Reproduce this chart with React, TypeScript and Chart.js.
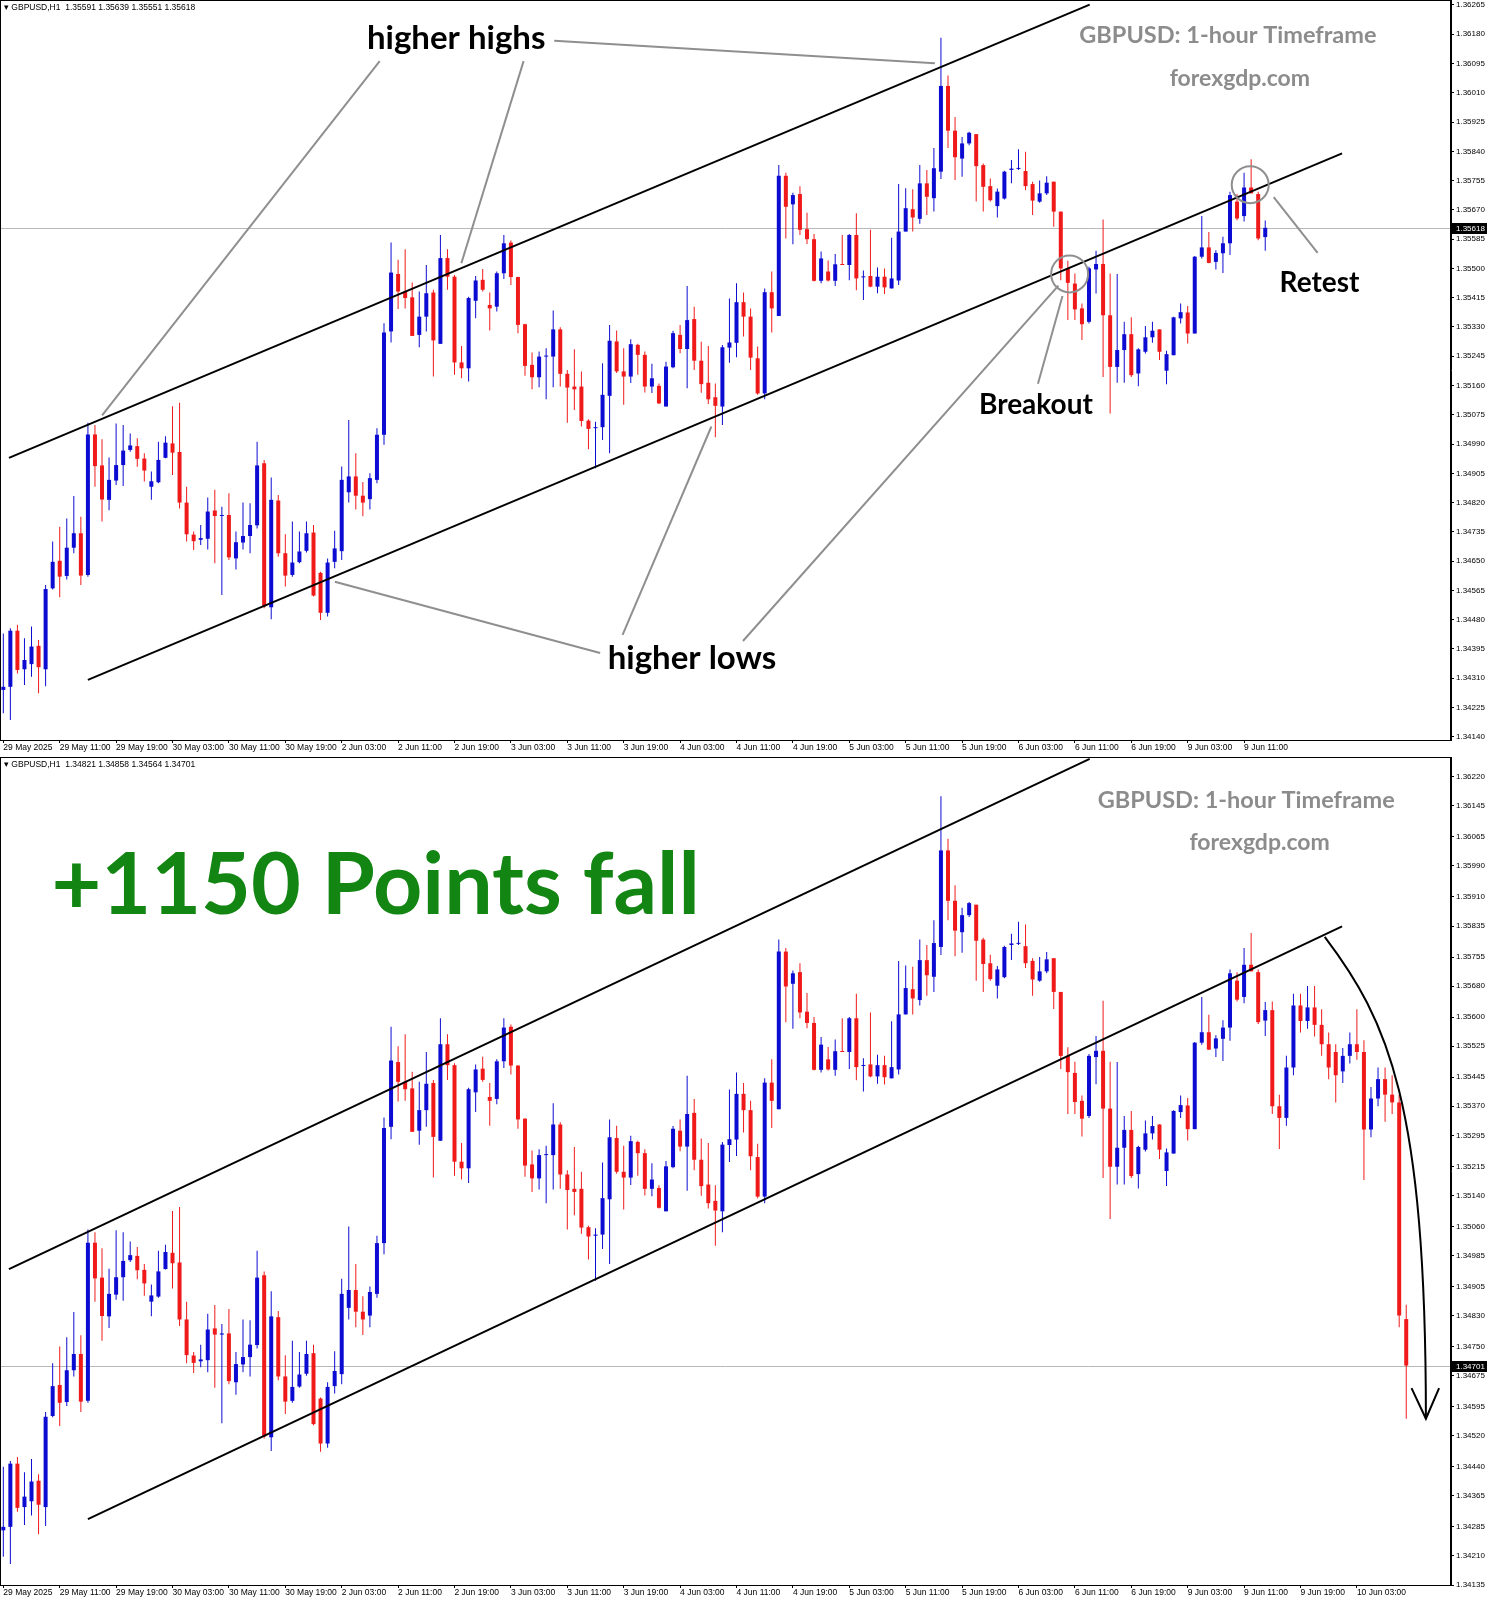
import React, { useEffect, useRef } from 'react';
import { Chart, registerables } from 'chart.js';
Chart.register(...registerables);

// ---------- DATA (GBPUSD H1) ----------
const openP = [
  1.34276, 1.34285, 1.34448, 1.34336, 1.34351, 1.34404, 1.34336, 1.34571, 1.34651, 1.34607,
  1.34689, 1.34731, 1.34610, 1.35018, 1.34928, 1.34828, 1.34884, 1.34929, 1.34973, 1.34984,
  1.34948, 1.34866, 1.34879, 1.34950, 1.34992, 1.34967, 1.34820, 1.34727, 1.34712, 1.34715,
  1.34797, 1.34781, 1.34784, 1.34658, 1.34704, 1.34723, 1.34754, 1.34934, 1.34516, 1.34826,
  1.34673, 1.34610, 1.34647, 1.34680, 1.34733, 1.34616, 1.34500, 1.34648, 1.34679, 1.34850,
  1.34896, 1.34840, 1.34830, 1.34886, 1.35017, 1.35317, 1.35484, 1.35433, 1.35416, 1.35307,
  1.35360, 1.35430, 1.35281, 1.35530, 1.35476, 1.35227, 1.35210, 1.35406, 1.35467, 1.35394,
  1.35389, 1.35486, 1.35575, 1.35475, 1.35338, 1.35220, 1.35184, 1.35244, 1.35244, 1.35323,
  1.35194, 1.35157, 1.35157, 1.35058, 1.35036, 1.35039, 1.35130, 1.35288, 1.35201, 1.35186,
  1.35278, 1.35249, 1.35157, 1.35159, 1.35099, 1.35213, 1.35307, 1.35266, 1.35353, 1.35232,
  1.35168, 1.35126, 1.35099, 1.35270, 1.35284, 1.35402, 1.35360, 1.35239, 1.35137, 1.35431,
  1.35362, 1.35769, 1.35686, 1.35716, 1.35614, 1.35585, 1.35464, 1.35491, 1.35464, 1.35512,
  1.35510, 1.35597, 1.35474, 1.35478, 1.35447, 1.35476, 1.35442, 1.35465, 1.35607, 1.35672,
  1.35644, 1.35747, 1.35704, 1.35781, 1.36030, 1.35900, 1.35819, 1.35863, 1.35890, 1.35800,
  1.35739, 1.35681, 1.35703, 1.35786, 1.35789, 1.35783, 1.35745, 1.35694, 1.35718, 1.35752,
  1.35665, 1.35500, 1.35456, 1.35384, 1.35345, 1.35497, 1.35513, 1.35364, 1.35214, 1.35263,
  1.35309, 1.35195, 1.35258, 1.35300, 1.35323, 1.35203, 1.35248, 1.35355, 1.35372, 1.35311,
  1.35534, 1.35561, 1.35519, 1.35544, 1.35573, 1.35694, 1.35652, 1.35735, 1.35716, 1.35591,
  1.35618, 1.35370, 1.35340, 1.35470, 1.35630, 1.35590, 1.35625, 1.35580, 1.35530, 1.35510,
  1.35460, 1.35500, 1.35530, 1.35510, 1.35310, 1.35390, 1.35440, 1.35400, 1.35380, 1.34821,
];
const highP = [
  1.34440, 1.34455, 1.34465, 1.34426, 1.34460, 1.34421, 1.34581, 1.34707, 1.34750, 1.34774,
  1.34839, 1.34779, 1.35052, 1.35045, 1.35004, 1.34951, 1.35050, 1.35045, 1.35021, 1.35007,
  1.34963, 1.34910, 1.34997, 1.35013, 1.35100, 1.35110, 1.34866, 1.34736, 1.34755, 1.34835,
  1.34857, 1.34808, 1.34847, 1.34736, 1.34820, 1.34818, 1.34997, 1.34944, 1.34893, 1.34842,
  1.34728, 1.34765, 1.34736, 1.34765, 1.34755, 1.34619, 1.34658, 1.34738, 1.34925, 1.35060,
  1.34963, 1.34880, 1.34905, 1.35036, 1.35341, 1.35575, 1.35525, 1.35556, 1.35459, 1.35433,
  1.35510, 1.35438, 1.35597, 1.35556, 1.35481, 1.35275, 1.35418, 1.35478, 1.35498, 1.35430,
  1.35491, 1.35597, 1.35581, 1.35476, 1.35339, 1.35256, 1.35259, 1.35268, 1.35378, 1.35329,
  1.35205, 1.35265, 1.35201, 1.35062, 1.35055, 1.35225, 1.35336, 1.35320, 1.35268, 1.35294,
  1.35281, 1.35259, 1.35223, 1.35166, 1.35229, 1.35319, 1.35336, 1.35449, 1.35389, 1.35287,
  1.35275, 1.35166, 1.35278, 1.35413, 1.35457, 1.35430, 1.35384, 1.35273, 1.35442, 1.35491,
  1.35800, 1.35778, 1.35720, 1.35739, 1.35662, 1.35600, 1.35549, 1.35523, 1.35542, 1.35597,
  1.35600, 1.35660, 1.35494, 1.35612, 1.35503, 1.35500, 1.35589, 1.35745, 1.35733, 1.35730,
  1.35800, 1.35786, 1.35850, 1.36170, 1.36060, 1.35940, 1.35882, 1.35897, 1.35890, 1.35805,
  1.35761, 1.35732, 1.35784, 1.35815, 1.35846, 1.35839, 1.35752, 1.35755, 1.35768, 1.35752,
  1.35665, 1.35522, 1.35485, 1.35398, 1.35505, 1.35551, 1.35642, 1.35485, 1.35484, 1.35345,
  1.35358, 1.35268, 1.35333, 1.35345, 1.35323, 1.35261, 1.35360, 1.35398, 1.35391, 1.35536,
  1.35652, 1.35606, 1.35553, 1.35592, 1.35723, 1.35716, 1.35778, 1.35817, 1.35723, 1.35639,
  1.35640, 1.35400, 1.35500, 1.35660, 1.35660, 1.35680, 1.35680, 1.35620, 1.35560, 1.35530,
  1.35520, 1.35560, 1.35620, 1.35540, 1.35420, 1.35470, 1.35470, 1.35450, 1.35400, 1.34858,
];
const lowP = [
  1.34208, 1.34189, 1.34324, 1.34290, 1.34314, 1.34266, 1.34287, 1.34568, 1.34545, 1.34597,
  1.34673, 1.34581, 1.34605, 1.34866, 1.34765, 1.34798, 1.34871, 1.34868, 1.34968, 1.34924,
  1.34881, 1.34828, 1.34876, 1.34949, 1.34900, 1.34803, 1.34707, 1.34682, 1.34697, 1.34684,
  1.34644, 1.34552, 1.34653, 1.34626, 1.34684, 1.34673, 1.34745, 1.34513, 1.34481, 1.34663,
  1.34576, 1.34605, 1.34644, 1.34675, 1.34547, 1.34479, 1.34489, 1.34629, 1.34653, 1.34820,
  1.34800, 1.34780, 1.34800, 1.34876, 1.34988, 1.35285, 1.35382, 1.35384, 1.35304, 1.35271,
  1.35317, 1.35186, 1.35281, 1.35438, 1.35191, 1.35181, 1.35172, 1.35355, 1.35433, 1.35320,
  1.35375, 1.35469, 1.35452, 1.35312, 1.35188, 1.35149, 1.35155, 1.35120, 1.35155, 1.35157,
  1.35052, 1.35089, 1.35041, 1.34975, 1.34920, 1.35002, 1.34963, 1.35196, 1.35104, 1.35167,
  1.35191, 1.35140, 1.35138, 1.35106, 1.35099, 1.35210, 1.35254, 1.35152, 1.35205, 1.35139,
  1.35106, 1.35010, 1.35045, 1.35226, 1.35242, 1.35302, 1.35205, 1.35133, 1.35120, 1.35314,
  1.35362, 1.35587, 1.35570, 1.35597, 1.35571, 1.35462, 1.35457, 1.35462, 1.35449, 1.35510,
  1.35466, 1.35437, 1.35408, 1.35445, 1.35428, 1.35426, 1.35442, 1.35452, 1.35607, 1.35607,
  1.35630, 1.35655, 1.35665, 1.35760, 1.35850, 1.35757, 1.35766, 1.35858, 1.35694, 1.35665,
  1.35694, 1.35648, 1.35700, 1.35747, 1.35786, 1.35727, 1.35655, 1.35691, 1.35713, 1.35621,
  1.35466, 1.35350, 1.35350, 1.35292, 1.35340, 1.35427, 1.35185, 1.35079, 1.35168, 1.35168,
  1.35185, 1.35158, 1.35253, 1.35284, 1.35234, 1.35164, 1.35248, 1.35340, 1.35282, 1.35311,
  1.35529, 1.35515, 1.35497, 1.35487, 1.35539, 1.35640, 1.35636, 1.35718, 1.35582, 1.35551,
  1.35350, 1.35260, 1.35320, 1.35450, 1.35560, 1.35570, 1.35550, 1.35500, 1.35440, 1.35380,
  1.35430, 1.35480, 1.35490, 1.35180, 1.35290, 1.35370, 1.35330, 1.35350, 1.34800, 1.34564,
];
const closeP = [
  1.34285, 1.34448, 1.34334, 1.34363, 1.34402, 1.34342, 1.34569, 1.34648, 1.34605, 1.34689,
  1.34731, 1.34608, 1.35018, 1.34926, 1.34829, 1.34886, 1.34929, 1.34971, 1.34986, 1.34947,
  1.34913, 1.34882, 1.34944, 1.34994, 1.34965, 1.34820, 1.34728, 1.34708, 1.34717, 1.34794,
  1.34781, 1.34784, 1.34661, 1.34705, 1.34723, 1.34755, 1.34928, 1.34518, 1.34828, 1.34673,
  1.34608, 1.34646, 1.34678, 1.34731, 1.34550, 1.34500, 1.34646, 1.34687, 1.34886, 1.34896,
  1.34840, 1.34820, 1.34891, 1.35017, 1.35314, 1.35488, 1.35433, 1.35414, 1.35304, 1.35360,
  1.35428, 1.35291, 1.35530, 1.35476, 1.35227, 1.35210, 1.35414, 1.35465, 1.35438, 1.35384,
  1.35486, 1.35573, 1.35475, 1.35336, 1.35217, 1.35184, 1.35244, 1.35246, 1.35323, 1.35194,
  1.35154, 1.35149, 1.35057, 1.35034, 1.35039, 1.35133, 1.35290, 1.35201, 1.35186, 1.35280,
  1.35249, 1.35157, 1.35181, 1.35108, 1.35215, 1.35312, 1.35266, 1.35350, 1.35232, 1.35164,
  1.35120, 1.35101, 1.35271, 1.35285, 1.35402, 1.35360, 1.35241, 1.35137, 1.35431, 1.35384,
  1.35769, 1.35679, 1.35713, 1.35612, 1.35585, 1.35464, 1.35529, 1.35465, 1.35512, 1.35510,
  1.35597, 1.35471, 1.35476, 1.35447, 1.35476, 1.35445, 1.35471, 1.35607, 1.35675, 1.35648,
  1.35747, 1.35708, 1.35791, 1.36030, 1.35900, 1.35823, 1.35863, 1.35894, 1.35797, 1.35737,
  1.35698, 1.35723, 1.35781, 1.35790, 1.35791, 1.35739, 1.35697, 1.35718, 1.35749, 1.35665,
  1.35500, 1.35458, 1.35381, 1.35338, 1.35500, 1.35513, 1.35364, 1.35214, 1.35263, 1.35309,
  1.35190, 1.35265, 1.35300, 1.35319, 1.35258, 1.35251, 1.35358, 1.35373, 1.35311, 1.35534,
  1.35561, 1.35516, 1.35545, 1.35573, 1.35713, 1.35645, 1.35735, 1.35718, 1.35587, 1.35618,
  1.35370, 1.35340, 1.35470, 1.35630, 1.35590, 1.35625, 1.35580, 1.35530, 1.35470, 1.35450,
  1.35500, 1.35530, 1.35510, 1.35310, 1.35390, 1.35440, 1.35400, 1.35380, 1.34830, 1.34701,
];

const topCount = 180;
const bottomCount = 200;

const timeLabelsTop = [
  '29 May 2025', '29 May 11:00', '29 May 19:00', '30 May 03:00', '30 May 11:00', '30 May 19:00',
  '2 Jun 03:00', '2 Jun 11:00', '2 Jun 19:00', '3 Jun 03:00', '3 Jun 11:00', '3 Jun 19:00',
  '4 Jun 03:00', '4 Jun 11:00', '4 Jun 19:00', '5 Jun 03:00', '5 Jun 11:00', '5 Jun 19:00',
  '6 Jun 03:00', '6 Jun 11:00', '6 Jun 19:00', '9 Jun 03:00', '9 Jun 11:00',
];
const timeLabelsBottom = [...timeLabelsTop, '9 Jun 19:00', '10 Jun 03:00'];

const priceTicksTop = [
  1.36265, 1.36180, 1.36095, 1.36010, 1.35925, 1.35840, 1.35755, 1.35670, 1.35585, 1.35500,
  1.35415, 1.35330, 1.35245, 1.35160, 1.35075, 1.34990, 1.34905, 1.34820, 1.34735, 1.34650,
  1.34565, 1.34480, 1.34395, 1.34310, 1.34225, 1.34140,
];
const priceTicksBottom = [
  1.36220, 1.36145, 1.36065, 1.35990, 1.35910, 1.35835, 1.35755, 1.35680, 1.35600, 1.35525,
  1.35445, 1.35370, 1.35295, 1.35215, 1.35140, 1.35060, 1.34985, 1.34905, 1.34830, 1.34750,
  1.34675, 1.34595, 1.34520, 1.34440, 1.34365, 1.34285, 1.34210, 1.34135,
];

// channel (index, price)
const channelUpper = [[0.8, 1.34950], [154.1, 1.36266]];
const channelLower = [[12.0, 1.34305], [189.9, 1.35834]];

// annotation pointer lines, top panel (index, price)
const pointerLinesTop = [
  [[53.39, 1.36102], [14.01, 1.35073]],
  [[73.80, 1.36102], [64.97, 1.35515]],
  [[78.14, 1.36161], [132.14, 1.36096]],
  [[84.66, 1.34383], [47.02, 1.34590]],
  [[87.84, 1.34436], [100.44, 1.35041]],
  [[104.92, 1.34418], [149.66, 1.35450]],
  [[146.76, 1.35165], [150.24, 1.35420]],
  [[186.43, 1.35545], [180.2, 1.35707]],
];
const circlesTop = [[151.25, 1.35484], [176.87, 1.35743]];

const textsTop = [
  { t: 'higher highs', i: 64.24, p: 1.36167, font: 'bold 33px Lato', color: '#000' },
  { t: 'GBPUSD: 1-hour Timeframe', i: 173.7, p: 1.36176, font: 'bold 23.5px Lato', color: '#8c8c8c' },
  { t: 'forexgdp.com', i: 175.4, p: 1.36051, font: 'bold 23px Lato', color: '#8c8c8c' },
  { t: 'Retest', i: 186.7, p: 1.35459, font: 'bold 28px Lato', color: '#000' },
  { t: 'Breakout', i: 146.47, p: 1.35103, font: 'bold 28px Lato', color: '#000' },
  { t: 'higher lows', i: 97.69, p: 1.34368, font: 'bold 33px Lato', color: '#000' },
];
const textsBottom = [
  { t: 'GBPUSD: 1-hour Timeframe', i: 176.3, p: 1.36160, font: 'bold 23.5px Lato', color: '#8c8c8c' },
  { t: 'forexgdp.com', i: 178.2, p: 1.36049, font: 'bold 23px Lato', color: '#8c8c8c' },
  { t: '+1150 Points fall', i: 52.81, p: 1.35938, font: 'bold 86px Lato', color: '#138513' },
];
// curved arrow (cubic bezier) in bottom panel, (index, price)
const fallCurve = [[187.44, 1.35807], [196.41, 1.35591], [201.79, 1.35380], [201.79, 1.34564]];
const fallHead = [[199.75, 1.34643], [201.79, 1.34564], [203.66, 1.34643]];

const BLUE = '#0c0cd2';
const RED = '#f01a1a';
const GREY = '#8f8f8f';
const X_FONT = { family: 'Liberation Sans', size: 8.5 };
const Y_FONT = { family: 'Liberation Sans', size: 8 };

type PanelCfg = {
  count: number;
  labels: string[];
  yTicks: number[];
  yMin: number;
  yMax: number;
  padTop: number;
  xAxisH: number;
  lastPrice: number;
  header: string;
  pointers: number[][][];
  circles: number[][];
  texts: { t: string; i: number; p: number; font: string; color: string }[];
  curve?: number[][];
  head?: number[][];
};

function makeChart(canvas: HTMLCanvasElement, c: PanelCfg) {
  const idx = Array.from({ length: c.count }, (_, i) => i);
  const colors = idx.map((i) => (closeP[i] >= openP[i] ? BLUE : RED));
  const wicks = idx.map((i) => ({ x: i, y: [lowP[i], highP[i]] }));
  const bodies = idx.map((i) => ({ x: i, y: [openP[i], closeP[i]] }));

  const overlay = {
    id: 'overlay',
    beforeDatasetsDraw(chart: any) {
      const { ctx, chartArea: a, scales } = chart;
      const py = Math.round(scales.y.getPixelForValue(c.lastPrice)) + 0.5;
      ctx.save();
      ctx.strokeStyle = '#b8b8b8';
      ctx.lineWidth = 1;
      ctx.beginPath();
      ctx.moveTo(a.left, py);
      ctx.lineTo(a.right, py);
      ctx.stroke();
      ctx.restore();
    },
    afterDatasetsDraw(chart: any) {
      const { ctx, chartArea: a, scales } = chart;
      const X = (i: number) => scales.x.getPixelForValue(i);
      const Y = (p: number) => scales.y.getPixelForValue(p);
      ctx.save();
      ctx.beginPath();
      ctx.rect(a.left, a.top, a.right - a.left, a.bottom - a.top);
      ctx.clip();
      ctx.strokeStyle = '#000';
      ctx.lineWidth = 2;
      for (const ln of [channelUpper, channelLower]) {
        ctx.beginPath();
        ctx.moveTo(X(ln[0][0]), Y(ln[0][1]));
        ctx.lineTo(X(ln[1][0]), Y(ln[1][1]));
        ctx.stroke();
      }
      ctx.strokeStyle = GREY;
      ctx.lineWidth = 2;
      for (const ln of c.pointers) {
        ctx.beginPath();
        ctx.moveTo(X(ln[0][0]), Y(ln[0][1]));
        ctx.lineTo(X(ln[1][0]), Y(ln[1][1]));
        ctx.stroke();
      }
      for (const cc of c.circles) {
        ctx.beginPath();
        ctx.arc(X(cc[0]), Y(cc[1]), 18.5, 0, Math.PI * 2);
        ctx.stroke();
      }
      if (c.curve && c.head) {
        ctx.strokeStyle = '#000';
        ctx.lineWidth = 2;
        const q = c.curve;
        ctx.beginPath();
        ctx.moveTo(X(q[0][0]), Y(q[0][1]));
        ctx.bezierCurveTo(X(q[1][0]), Y(q[1][1]), X(q[2][0]), Y(q[2][1]), X(q[3][0]), Y(q[3][1]));
        ctx.stroke();
        const h = c.head;
        ctx.beginPath();
        ctx.moveTo(X(h[0][0]), Y(h[0][1]));
        ctx.lineTo(X(h[1][0]), Y(h[1][1]));
        ctx.lineTo(X(h[2][0]), Y(h[2][1]));
        ctx.stroke();
      }
      ctx.textAlign = 'center';
      ctx.textBaseline = 'middle';
      for (const tx of c.texts) {
        ctx.font = tx.font;
        ctx.fillStyle = tx.color;
        ctx.fillText(tx.t, X(tx.i), Y(tx.p));
      }
      ctx.textAlign = 'left';
      ctx.textBaseline = 'top';
      ctx.font = '8.5px "Liberation Sans"';
      ctx.fillStyle = '#000';
      ctx.fillText(c.header, a.left + 4, a.top + 3);
      ctx.restore();
    },
    afterDraw(chart: any) {
      const { ctx, chartArea: a, scales } = chart;
      ctx.save();
      ctx.strokeStyle = '#000';
      ctx.lineWidth = 1;
      ctx.strokeRect(a.left + 0.5, a.top + 0.5, a.right - a.left - 1, a.bottom - a.top);
      const py = scales.y.getPixelForValue(c.lastPrice);
      ctx.fillStyle = '#000';
      ctx.fillRect(a.right + 1, Math.round(py) - 5, 35, 11);
      ctx.fillStyle = '#fff';
      ctx.font = '8px "Liberation Sans"';
      ctx.textAlign = 'left';
      ctx.textBaseline = 'middle';
      ctx.fillText(c.lastPrice.toFixed(5), a.right + 5, Math.round(py) + 0.5);
      ctx.restore();
    },
  };

  return new Chart(canvas, {
    type: 'bar',
    data: {
      datasets: [
        {
          data: wicks as any,
          backgroundColor: colors,
          barThickness: 1,
          grouped: false,
          inflateAmount: 0,
          minBarLength: 1,
        } as any,
        {
          data: bodies as any,
          backgroundColor: colors,
          barThickness: 4,
          grouped: false,
          inflateAmount: 0,
          minBarLength: 1,
        } as any,
      ],
    },
    options: {
      responsive: false,
      animation: false,
      events: [],
      layout: { padding: { left: 0, right: 0, top: c.padTop, bottom: 0 } },
      plugins: { legend: { display: false }, tooltip: { enabled: false } },
      scales: {
        x: {
          type: 'linear',
          position: 'bottom',
          offset: false,
          min: -0.47,
          max: 205.35,
          afterBuildTicks: (s: any) => {
            s.ticks = c.labels.map((_, k) => ({ value: k * 8 }));
          },
          afterFit: (s: any) => {
            s.height = c.xAxisH;
            s.paddingLeft = 0;
            s.paddingRight = 0;
          },
          ticks: {
            autoSkip: false,
            maxRotation: 0,
            align: 'start',
            padding: 0,
            font: X_FONT,
            color: '#000',
            callback: (v: any) => c.labels[Math.round(Number(v) / 8)] ?? '',
          },
          grid: { offset: false, drawOnChartArea: false, drawTicks: true, tickLength: 3, color: '#000' },
          border: { display: true, color: '#000' },
        },
        y: {
          type: 'linear',
          position: 'right',
          min: c.yMin,
          max: c.yMax,
          afterBuildTicks: (s: any) => {
            s.ticks = c.yTicks.map((v) => ({ value: v }));
          },
          afterFit: (s: any) => {
            s.width = 36;
            s.paddingTop = 0;
            s.paddingBottom = 0;
          },
          ticks: {
            padding: 2,
            font: Y_FONT,
            color: '#000',
            callback: (v: any) => Number(v).toFixed(5),
          },
          grid: { drawOnChartArea: false, drawTicks: true, tickLength: 3, color: '#000' },
          border: { display: true, color: '#000' },
        },
      },
    } as any,
    plugins: [overlay],
  });
}

export default function App() {
  const topRef = useRef<HTMLCanvasElement>(null);
  const botRef = useRef<HTMLCanvasElement>(null);

  useEffect(() => {
    const top = makeChart(topRef.current!, {
      count: topCount,
      labels: timeLabelsTop,
      yTicks: priceTicksTop,
      yMin: 1.341306,
      yMax: 1.362795,
      padTop: 0,
      xAxisH: 16,
      lastPrice: 1.35618,
      header: '\u25BE GBPUSD,H1  1.35591 1.35639 1.35551 1.35618',
      pointers: pointerLinesTop,
      circles: circlesTop,
      texts: textsTop,
    });
    const bot = makeChart(botRef.current!, {
      count: bottomCount,
      labels: timeLabelsBottom,
      yTicks: priceTicksBottom,
      yMin: 1.34135,
      yMax: 1.36271,
      padTop: 1,
      xAxisH: 15,
      lastPrice: 1.34701,
      header: '\u25BE GBPUSD,H1  1.34821 1.34858 1.34564 1.34701',
      pointers: [],
      circles: [],
      texts: textsBottom,
      curve: fallCurve,
      head: fallHead,
    });
    return () => {
      top.destroy();
      bot.destroy();
    };
  }, []);

  return (
    <div style={{ position: 'absolute', left: 0, top: 0, width: 1487, height: 1600, background: '#fff' }}>
      <canvas ref={topRef} width={1487} height={756} style={{ position: 'absolute', left: 0, top: 0 }} />
      <canvas ref={botRef} width={1487} height={844} style={{ position: 'absolute', left: 0, top: 756 }} />
    </div>
  );
}
